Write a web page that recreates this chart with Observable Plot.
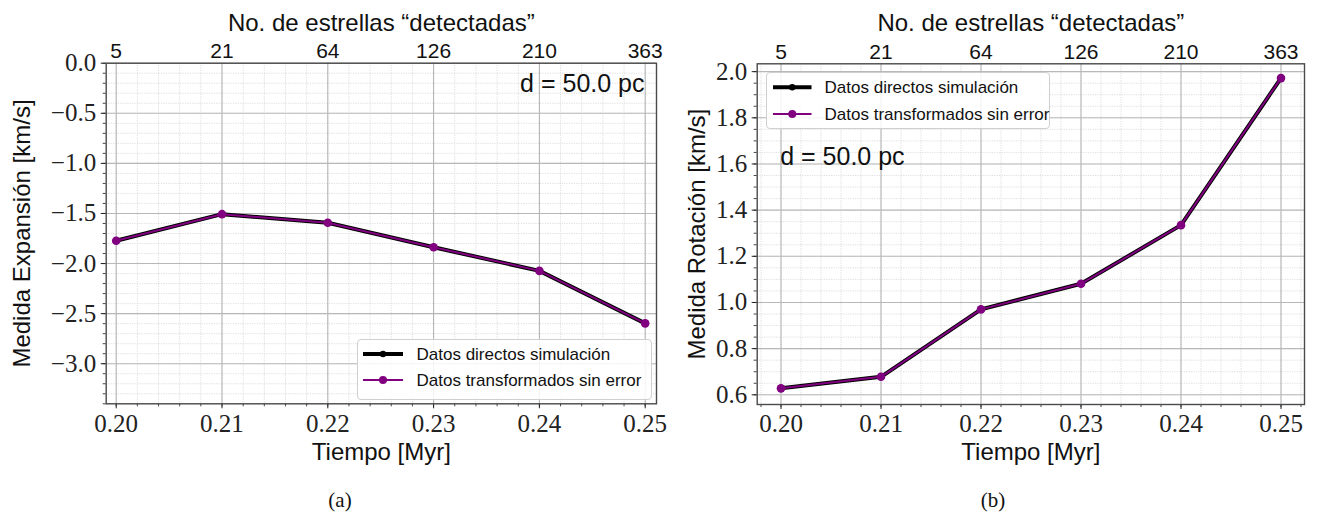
<!DOCTYPE html>
<html>
<head>
<meta charset="utf-8">
<script src="https://cdn.jsdelivr.net/npm/d3@7"></script>
<script src="https://cdn.jsdelivr.net/npm/@observablehq/plot@0.6"></script>
<style>
  html, body { margin: 0; padding: 0; background: #fff; }
  #page { position: relative; width: 1317px; height: 518px; overflow: hidden; }
  .panel { position: absolute; top: 0; }
  .caption { position: absolute; font-family: "Liberation Serif", serif; font-size: 21px; color: #111; transform: translate(-50%, -50%); }
  .legend { position: absolute; background: rgba(255,255,255,0.85); border: 1px solid #cfcfcf; border-radius: 4px; box-sizing: border-box; }
  .legend svg { position: absolute; left: 0; top: 0; overflow: visible; }
  .legend text { font-family: "Liberation Sans", Arial, sans-serif; font-size: 17px; fill: #111; }
</style>
</head>
<body>
<div id="page"></div>
<script>
// Time steps of the simulation and number of "detected" stars at each step
const tiempo = [0.20, 0.21, 0.22, 0.23, 0.24, 0.25];
const estrellas = ["5", "21", "64", "126", "210", "363"];

// Mean expansion [km/s]
const expansionDirectos = [-1.773, -1.507, -1.593, -1.837, -2.073, -2.597];
const expansionTransformados = [-1.773, -1.507, -1.593, -1.837, -2.073, -2.597];

// Mean rotation [km/s]
const rotacionDirectos = [0.628, 0.678, 0.970, 1.081, 1.335, 1.972];
const rotacionTransformados = [0.628, 0.678, 0.970, 1.081, 1.335, 1.972];

// Axis tick labels
const expansionTicks = [0.0, -0.5, -1.0, -1.5, -2.0, -2.5, -3.0];
const rotacionTicks = [0.6, 0.8, 1.0, 1.2, 1.4, 1.6, 1.8, 2.0];

const serieNames = ["Datos directos simulación", "Datos transformados sin error"];
const tituloSuperior = "No. de estrellas “detectadas”";
const tituloInferior = "Tiempo [Myr]";
const anotacion = "d = 50.0 pc";

const SANS = "Liberation Sans, Arial, sans-serif";
const SERIF = "Liberation Serif, Times New Roman, serif";
const PURPLE = "#800080";

const rows = (ys) => tiempo.map((t, i) => ({t, v: ys[i]}));
const inside = ([a, b]) => (v) => v >= Math.min(a, b) - 1e-9 && v <= Math.max(a, b) + 1e-9;

function panel({width, height, margin, xDomain, yDomain, yTicks, yMinorStep, yLabel,
                directos, transformados, labelOffset, note}) {
  const xMinor = d3.range(95, 130).map(i => +(i * 0.002).toFixed(3)).filter(inside(xDomain));
  const lo = Math.ceil(Math.min(...yDomain) / yMinorStep), hi = Math.floor(Math.max(...yDomain) / yMinorStep);
  const yMinor = d3.range(lo, hi + 1).map(i => +(i * yMinorStep).toFixed(3));
  const yMajor = yTicks.filter(inside(yDomain));
  const fmt = d3.format(".1f");
  const label = {fontFamily: SANS, fontSize: 24, fill: "#111", lineAnchor: "middle", textAnchor: "middle"};

  return Plot.plot({
    width, height,
    marginLeft: margin.left, marginRight: margin.right, marginTop: margin.top, marginBottom: margin.bottom,
    x: {domain: xDomain, label: null},
    y: {domain: yDomain, label: null},
    style: {background: "transparent", overflow: "visible"},
    marks: [
      // minor and major grid
      Plot.gridX(xMinor, {stroke: "#d6d6d6", strokeOpacity: 1, strokeWidth: 0.8, strokeDasharray: "1.2,1.2"}),
      Plot.gridY(yMinor, {stroke: "#d6d6d6", strokeOpacity: 1, strokeWidth: 0.8, strokeDasharray: "1.2,1.2"}),
      Plot.gridX(tiempo, {stroke: "#a8a8a8", strokeOpacity: 1, strokeWidth: 0.9}),
      Plot.gridY(yMajor, {stroke: "#b8b8b8", strokeOpacity: 1, strokeWidth: 1.1}),
      // bottom axis (time)
      Plot.axisX(xMinor, {anchor: "bottom", tickSize: 3, tickFormat: () => "", label: null, stroke: "#444"}),
      Plot.axisX(tiempo, {anchor: "bottom", tickSize: 5, tickPadding: 5, tickFormat: d3.format(".2f"),
        label: null, fontFamily: SERIF, fontSize: 25, color: "#222"}),
      // top axis (number of stars)
      Plot.axisX(tiempo, {anchor: "top", tickSize: 0, tickPadding: 5, tickFormat: (d, i) => estrellas[i],
        label: null, fontFamily: SANS, fontSize: 21, color: "#111"}),
      // left axis
      Plot.axisY(yMinor, {anchor: "left", tickSize: 3, tickFormat: () => "", label: null, stroke: "#444"}),
      Plot.axisY(yMajor, {anchor: "left", tickSize: 5, tickPadding: 5, tickFormat: fmt,
        label: null, fontFamily: SERIF, fontSize: 25, color: "#222"}),
      Plot.frame({stroke: "#4a4a4a", strokeWidth: 1.4}),
      // series
      Plot.line(rows(directos), {x: "t", y: "v", stroke: "#000", strokeWidth: 4}),
      Plot.dot(rows(directos), {x: "t", y: "v", fill: "#000", r: 3.5}),
      Plot.line(rows(transformados), {x: "t", y: "v", stroke: PURPLE, strokeWidth: 2}),
      Plot.dot(rows(transformados), {x: "t", y: "v", fill: PURPLE, r: 4.3}),
      // titles
      Plot.text([tituloSuperior], {...label, text: d => d, frameAnchor: "top", dy: -labelOffset.top}),
      Plot.text([tituloInferior], {...label, text: d => d, frameAnchor: "bottom", dy: labelOffset.bottom}),
      Plot.text([yLabel], {...label, text: d => d, frameAnchor: "left", dx: -labelOffset.left, rotate: -90}),
      Plot.text([anotacion], {...label, fontSize: 25, text: d => d, frameAnchor: note.anchor,
        textAnchor: note.textAnchor, dx: note.dx, dy: note.dy})
    ]
  });
}

function legend(left, top, width, height, rowY, lineX0, lineX1, textX) {
  const div = document.createElement("div");
  div.className = "legend";
  Object.assign(div.style, {left: left + "px", top: top + "px", width: width + "px", height: height + "px"});
  const svg = d3.create("svg").attr("width", width).attr("height", height);
  const styles = [
    {stroke: "#000", width: 4, r: 3.2},
    {stroke: PURPLE, width: 2, r: 4}
  ];
  serieNames.forEach((name, i) => {
    const y = rowY[i], s = styles[i];
    svg.append("line").attr("x1", lineX0).attr("x2", lineX1).attr("y1", y).attr("y2", y)
      .attr("stroke", s.stroke).attr("stroke-width", s.width);
    svg.append("circle").attr("cx", (lineX0 + lineX1) / 2).attr("cy", y).attr("r", s.r).attr("fill", s.stroke);
    svg.append("text").attr("x", textX).attr("y", y).attr("dy", "0.35em").text(name);
  });
  div.appendChild(svg.node());
  return div;
}

const page = document.getElementById("page");

// (a) Expansion
const a = panel({
  width: 665, height: 470,
  margin: {left: 105.7, right: 9, top: 62.7, bottom: 66.7},
  xDomain: [0.199055, 0.251068],
  yDomain: [-3.4, 0],
  yTicks: expansionTicks, yMinorStep: 0.1,
  yLabel: "Medida Expansión [km/s]",
  directos: expansionDirectos, transformados: expansionTransformados,
  labelOffset: {top: 40, bottom: 49, left: 84},
  note: {anchor: "top-right", textAnchor: "end", dx: -12, dy: 21}
});
a.classList.add("panel");
a.style.left = "0px";
page.appendChild(a);

// (b) Rotation
const b = panel({
  width: 657, height: 470,
  margin: {left: 96.7, right: 13, top: 63.3, bottom: 66},
  xDomain: [0.19762, 0.25235],
  yDomain: [0.558, 2.034],
  yTicks: rotacionTicks, yMinorStep: 0.05,
  yLabel: "Medida Rotación [km/s]",
  directos: rotacionDirectos, transformados: rotacionTransformados,
  labelOffset: {top: 40, bottom: 48, left: 60},
  note: {anchor: "top-left", textAnchor: "start", dx: 23, dy: 93}
});
b.classList.add("panel");
b.style.left = "660px";
page.appendChild(b);

page.appendChild(legend(356.7, 339.3, 295.5, 61, [14, 40], 5, 45, 58.5));
page.appendChild(legend(765.7, 71.7, 284.5, 57.5, [14.3, 41], 6, 44.5, 57.6));

for (const [txt, x] of [["(a)", 340], ["(b)", 993]]) {
  const c = document.createElement("div");
  c.className = "caption";
  c.textContent = txt;
  c.style.left = x + "px";
  c.style.top = "500px";
  page.appendChild(c);
}
</script>
</body>
</html>
